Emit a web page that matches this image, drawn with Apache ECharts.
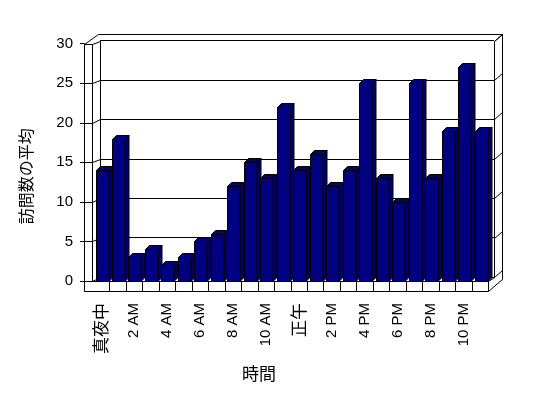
<!DOCTYPE html>
<html><head><meta charset="utf-8">
<script src="https://cdn.jsdelivr.net/npm/echarts@6/dist/echarts.min.js"></script>
<style>html,body{margin:0;padding:0;background:#fff}#c{width:548px;height:398px}</style>
</head><body><div id="c"></div>
<script>
const categories = ['真夜中','1 AM','2 AM','3 AM','4 AM','5 AM','6 AM','7 AM','8 AM','9 AM','10 AM','11 AM',
  '正午','1 PM','2 PM','3 PM','4 PM','5 PM','6 PM','7 PM','8 PM','9 PM','10 PM','11 PM'];
const visits = [14,18,3,4,2,3,5,6,12,15,13,22,14,16,12,14,25,13,10,25,13,19,27,19];
const yMin = 0, yMax = 30, yStep = 5;
const yTitle = '訪問数の平均';
const xTitle = '時間';

const LATIN = 'Liberation Sans, Arial, sans-serif';
const CJK = 'Noto Sans CJK JP, sans-serif';
const NAVY = '#000080';

const chart = echarts.init(document.getElementById('c'), null, {renderer:'canvas'});

function renderItem(params, api){
  const i = api.value(0), v = api.value(1);
  const base = api.coord([i, 0]);
  const top = api.coord([i, v]);
  const band = api.size([1, 0])[0];
  const x0 = Math.round(top[0] - 0.33*band) + 0.5;
  const x1 = Math.round(x0 + 0.765*band) + 0.5 - 0.5;
  const yT = Math.round(top[1]) + 0.5, yB = Math.round(base[1]) + 0.5;
  const dx = 4, dy = -4;
  const st = {stroke:'#000', lineWidth:1};
  return {type:'group', children:[
    {type:'polygon', shape:{points:[[x1,yB],[x1+dx,yB+dy],[x1+dx,yT+dy],[x1,yT]]}, style:Object.assign({fill:'#00006a'}, st)},
    {type:'polygon', shape:{points:[[x0,yT],[x0+dx,yT+dy],[x1+dx,yT+dy],[x1,yT]]}, style:Object.assign({fill:NAVY}, st)},
    {type:'rect', shape:{x:x0, y:yT, width:x1-x0, height:yB-yT}, style:Object.assign({fill:NAVY}, st)}
  ]};
}

function catLabel(val){
  if (/[^\x00-\x7f]/.test(val)) return '{j|' + val + '}';
  return val;
}

chart.setOption({
  animation:false,
  backgroundColor:'#fff',
  grid:[
    {left:92.7, right:59.7, top:43.7, bottom:117},
    {left:100, right:54, top:40.5, bottom:121}
  ],
  xAxis:[
    {type:'category', gridIndex:0, data:categories, boundaryGap:true,
     axisLine:{show:false}, axisTick:{show:false},
     axisLabel:{interval:1, rotate:90, margin:22, color:'#000', fontSize:15, fontFamily:LATIN,
       formatter:catLabel, rich:{j:{fontSize:17, fontFamily:CJK, color:'#000'}}},
     name:xTitle, nameLocation:'middle', nameGap:84,
     nameTextStyle:{fontSize:17, fontFamily:CJK, color:'#000', padding:[0,63,0,0]}},
    {type:'category', gridIndex:1, data:categories, show:false}
  ],
  yAxis:[
    {type:'value', gridIndex:0, min:yMin, max:yMax, interval:yStep, offset:8.7,
     axisLine:{show:true, lineStyle:{color:'#000', width:1}},
     axisTick:{show:true, length:4, lineStyle:{color:'#000'}},
     axisLabel:{color:'#000', fontSize:15, fontFamily:LATIN, margin:11},
     splitLine:{show:false},
     name:yTitle, nameLocation:'middle', nameGap:50, nameRotate:90,
     nameTextStyle:{fontSize:16, fontFamily:CJK, color:'#000', padding:[0,28,0,0]}},
    {type:'value', gridIndex:1, min:yMin, max:yMax, interval:yStep,
     axisLine:{show:false}, axisTick:{show:false}, axisLabel:{show:false},
     splitLine:{show:true, lineStyle:{color:'#000', width:1}}}
  ],
  series:[{
    type:'custom', xAxisIndex:0, yAxisIndex:0, z:5,
    renderItem:renderItem,
    data:visits.map((v,i)=>[i,v]),
    encode:{x:0, y:1}
  }]
});

// 3D frame (walls and floor) derived from the axes' pixel scale
(function(){
  const L = 84, LW = 92, LB = 100, RB = 494, RO = 502, TOPO = 34;
  const ln = (pts, z) => ({type:'polyline', z:z||1, silent:true, shape:{points:pts.map(p=>[Math.round(p[0])+0.5, Math.round(p[1])+0.5])}, style:{stroke:'#000', lineWidth:1, fill:null}});
  const els = [];
  const yF = v => chart.convertToPixel({yAxisIndex:0}, v);
  const yB = v => chart.convertToPixel({yAxisIndex:1}, v);
  const fTop = yF(yMax), fBot = yF(yMin), bTop = yB(yMax), bBot = yB(yMin);
  const floorBottom = fBot + 10;
  // left wall
  for (let v = yMin; v <= yMax; v += yStep){
    els.push(ln([[L, yF(v)], [LW, yF(v)], [LB, yB(v)]]));
    els.push(ln([[RB, yB(v)], [RO, yB(v) - 7]]));
  }
  els.push(ln([[LW, fTop], [LW, fBot]]));
  els.push(ln([[LB, bTop], [LB, bBot]]));
  els.push(ln([[L, fTop], [L + 14, TOPO], [RO, TOPO], [RO, bBot + 2]]));
  els.push(ln([[RB, bTop], [RO, TOPO]]));
  els.push(ln([[RB, bTop], [RB, bBot]]));
  els.push(ln([[L, floorBottom], [L, fTop]], 6));
  // floor
  const c0 = chart.convertToPixel({xAxisIndex:0}, 0);
  const c1 = chart.convertToPixel({xAxisIndex:0}, 1);
  const band = c1 - c0;
  const xEnd = c0 - band/2 + band*categories.length;
  els.push({type:'rect', z:6, silent:true,
    shape:{x:L+0.5, y:Math.round(fBot)+0.5, width:Math.round(xEnd - L), height:Math.round(floorBottom - fBot)},
    style:{fill:'#fff', stroke:'#000', lineWidth:1}});
  for (let i = 1; i < categories.length; i++){
    const x = c0 - band/2 + band*i;
    els.push(ln([[x, fBot], [x, floorBottom]], 7));
  }
  els.push(ln([[xEnd, floorBottom], [RO, bBot + 2]], 6));
  els.push(ln([[xEnd, fBot], [RB, bBot]], 6));
  chart.setOption({graphic:{elements:els}});
})();
</script>
</body></html>
